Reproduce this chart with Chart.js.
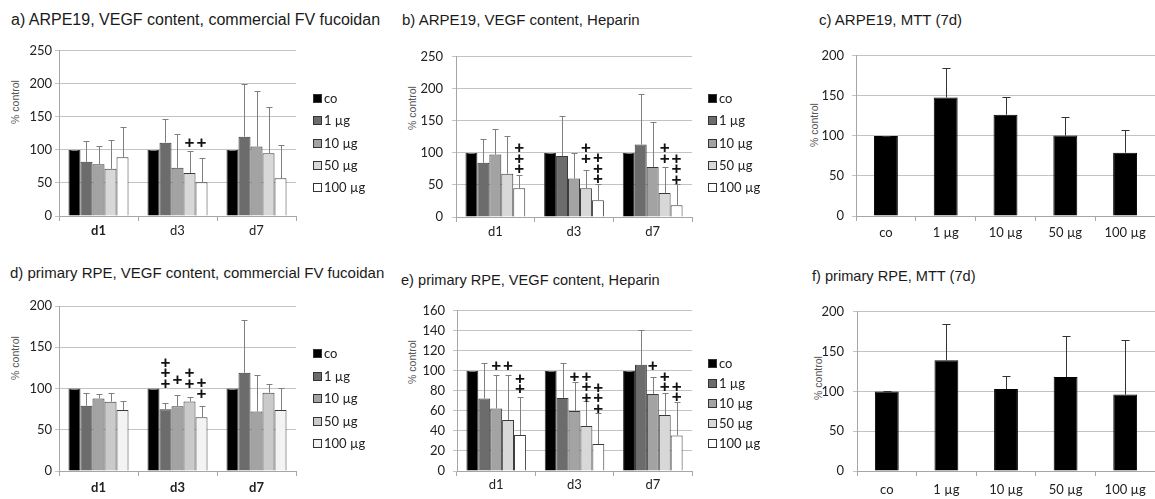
<!DOCTYPE html>
<html><head><meta charset="utf-8">
<script src="https://cdn.jsdelivr.net/npm/chart.js@4/dist/chart.umd.min.js"></script>
<style>
body{margin:0;background:#fff;width:1155px;height:499px;position:relative;overflow:hidden}
canvas{position:absolute}
.t{position:absolute;font-family:"Liberation Sans",Arial,sans-serif;font-size:15px;line-height:16px;color:#1a1a1a;white-space:nowrap}
.yl{position:absolute;font-family:"Liberation Sans",Arial,sans-serif;font-size:10.5px;line-height:12px;color:#555;white-space:nowrap;transform:translate(-50%,-50%) rotate(-90deg)}
</style></head><body>
<div class="t" style="left:11px;top:12px;font-size:16px">a) ARPE19, VEGF content, commercial FV fucoidan</div>
<div class="t" style="left:402px;top:12px">b) ARPE19, VEGF content, Heparin</div>
<div class="t" style="left:819px;top:12px">c) ARPE19, MTT (7d)</div>
<div class="t" style="left:10px;top:265px">d) primary RPE, VEGF content, commercial FV fucoidan</div>
<div class="t" style="left:401px;top:272px;font-size:14.6px">e) primary RPE, VEGF content, Heparin</div>
<div class="t" style="left:812px;top:268px;font-size:14.6px">f) primary RPE, MTT (7d)</div>
<div class="yl" style="left:15px;top:102px">% control</div>
<div class="yl" style="left:412px;top:108px">% control</div>
<div class="yl" style="left:814px;top:125px">% control</div>
<div class="yl" style="left:15px;top:358px">% control</div>
<div class="yl" style="left:412px;top:362px">% control</div>
<div class="yl" style="left:818px;top:378px">% control</div>
<canvas id="ca"></canvas><canvas id="cb"></canvas><canvas id="cc"></canvas>
<canvas id="cd"></canvas><canvas id="ce"></canvas><canvas id="cf"></canvas>
<script>
// ---------- data ----------
const days = ['d1', 'd3', 'd7'];
const doses = ['co', '1 µg', '10 µg', '50 µg', '100 µg'];
const mttLabels = ['co', '1 µg', '10 µg', '50 µg', '100 µg'];

// rows = dose (co,1,10,50,100), columns = day (d1,d3,d7)
const aMeans = [[100,100,100],[82,111,120],[78.5,73,105],[71.5,65,95],[89,51,57]];
const aSD    = [[0,0,0],[32,36,80],[27,51,84],[44,33,70],[46,37,51]];
const aPlus  = [[1,3,1,111],[1,4,1,111]];            // [day, dose, count, value of top +]

const bMeans = [[100,100,100],[84.5,95,113],[97.5,60,78],[67.5,45,37.5],[45,26,18.5]];
const bSD    = [[0,0,0],[37.5,62,79],[39.5,40,70],[59.5,28,40.5],[21,25,33.5]];
const bPlus  = [[0,4,3,108],[1,3,2,108],[1,4,3,93],[2,3,2,108],[2,4,3,92]];

const cMeans = [100,148,126.5,100.4,79];
const cSD    = [0,37,21.5,22.6,28];

const dMeans = [[100,100,100],[79,75,119],[88,78.6,72],[84,84.3,95],[74,65.3,74]];
const dSD    = [[0,0,0],[15,7,64],[5,13.7,44],[11,5.7,10],[11,13.7,27]];
const dPlus  = [[1,1,3,132],[1,2,1,111],[1,3,2,119.4],[1,4,2,107]];

const eMeans = [[100,100,100],[72.5,73,106],[62.5,60,77],[51,45,56],[36,27,35.5]];
const eSD    = [[0,0,0],[35.5,35,34.5],[33,29,16.5],[44.5,25,22],[37.5,31,33]];
const ePlus  = [[0,2,1,106],[0,3,1,106],[0,4,2,93],[1,2,1,95],[1,3,3,95],[1,4,3,84],[2,2,1,106],[2,3,2,95],[2,4,2,85]];

const fMeans = [100,139,103,118,96];
const fSD    = [0,45.7,16,52,69];

const yTicksA = {max:250, step:50};
const yTicksE = {max:160, step:20};
const yTicks200 = {max:200, step:50};

// ---------- styles ----------
const doseFill = ['#000000','#6c6c6c','#a3a3a3','#d8d8d8','#ffffff'];
const doseFillD = ['#000000','#6c6c6c','#a3a3a3','#cacaca','#f3f3f3'];
const tickFont = 'Lato';

// ---------- plugins ----------
const errBars = {
  id:'errBars',
  afterDatasetsDraw(chart, args, opts){
    const ctx = chart.ctx, y = chart.scales.y;
    ctx.save();
    ctx.strokeStyle = opts.color; ctx.lineWidth = 1;
    chart.data.datasets.forEach((ds, di) => {
      const meta = chart.getDatasetMeta(di);
      meta.data.forEach((el, i) => {
        const sd = ds.sd[i];
        const x = Math.round(el.x) + 0.5;
        const yt = Math.round(y.getPixelForValue(ds.data[i] + sd)) + 0.5;
        const yb = el.y;
        ctx.beginPath();
        if (sd > 0) { ctx.moveTo(x, yb); ctx.lineTo(x, yt); }
        ctx.moveTo(x - opts.cap/2, yt); ctx.lineTo(x + opts.cap/2, yt);
        ctx.stroke();
      });
    });
    ctx.restore();
  }
};
const plusMarks = {
  id:'plusMarks',
  afterDatasetsDraw(chart, args, opts){
    if (!opts.items) return;
    const ctx = chart.ctx, y = chart.scales.y;
    ctx.save();
    ctx.fillStyle = '#111';
    ctx.font = 'bold 17px "Liberation Sans"';
    ctx.textAlign = 'center'; ctx.textBaseline = 'middle';
    opts.items.forEach(([day, dose, n, v]) => {
      const el = chart.getDatasetMeta(dose).data[day];
      const y0 = y.getPixelForValue(v);
      for (let k = 0; k < n; k++) ctx.fillText('+', el.x, y0 + k * 10.5 + 1);
    });
    ctx.restore();
  }
};
const sideLegend = {
  id:'sideLegend',
  afterDraw(chart, args, opts){
    if (!opts.show) return;
    const ctx = chart.ctx;
    ctx.save();
    ctx.font = '13px ' + tickFont;
    ctx.textBaseline = 'middle'; ctx.textAlign = 'left';
    chart.data.datasets.forEach((ds, i) => {
      const yy = opts.y0 + i * opts.dy;
      ctx.fillStyle = ds.backgroundColor;
      ctx.fillRect(opts.x + 0.5, Math.round(yy - 4) + 0.5, 8, 8);
      ctx.strokeStyle = '#333'; ctx.lineWidth = 1;
      ctx.strokeRect(opts.x + 0.5, Math.round(yy - 4) + 0.5, 8, 8);
      ctx.fillStyle = '#222';
      ctx.fillText(ds.label, opts.x + 11, yy + 1);
    });
    ctx.restore();
  }
};

// ---------- builder ----------
function build(id, g, labels, datasets, yt, o){
  const cv = document.getElementById(id);
  cv.width = g.cw; cv.height = g.ch;
  cv.style.left = g.cx + 'px'; cv.style.top = g.cy + 'px';
  const bold = o.bold || [];
  new Chart(cv.getContext('2d'), {
    type:'bar',
    data:{labels, datasets},
    plugins:[errBars, plusMarks, sideLegend],
    options:{
      responsive:false, animation:false, devicePixelRatio:1,
      layout:{padding:{left:0, top:g.T - g.cy, right:g.cx + g.cw - g.R, bottom:0}},
      datasets:{bar:{categoryPercentage:o.cat, barPercentage:1}},
      plugins:{
        legend:{display:false}, tooltip:{enabled:false},
        errBars:{color:o.errColor, cap:o.cap},
        plusMarks:{items:o.plus},
        sideLegend:{show:o.legend, x:o.legX - g.cx, y0:o.legY - g.cy, dy:o.legDy}
      },
      scales:{
        x:{
          grid:{display:true, drawOnChartArea:false, drawTicks:true, tickLength:5, color:'#a6a6a6', offset:true},
          border:{display:true, color:'#a6a6a6'},
          ticks:{color:'#222', padding:o.xPad, maxRotation:0,
            font:(c) => ({family:tickFont, size:13, weight: bold.includes(c.index) ? 'bold' : 'normal'})},
          afterFit:(s) => { s.height = g.cy + g.ch - g.B; }
        },
        y:{
          min:0, max:yt.max,
          grid:{color:'#c3c3c3', tickLength:4},
          border:{display:true, color:'#a6a6a6'},
          ticks:{stepSize:yt.step, color:'#222', padding:o.yPad, font:{family:tickFont, size:13}},
          afterFit:(s) => { s.width = g.L - g.cx; }
        }
      }
    }
  });
}

function vegfSets(means, sds, fills){
  return doses.map((d, i) => ({label:d, data:means[i], sd:sds[i], backgroundColor:fills[i],
    borderColor:'#3a3a3a', borderWidth:1}));
}
function mttSet(means, sds){
  return [{label:'MTT', data:means, sd:sds, backgroundColor:'#000', borderColor:'#000', borderWidth:1}];
}

build('ca', {cx:0, cy:40, cw:390, ch:210, L:59, T:49, R:296, B:216}, days, vegfSets(aMeans, aSD, doseFill), yTicksA,
  {cat:0.76, errColor:'#7f7f7f', cap:6, plus:aPlus, legend:true, legX:313, legY:98, legDy:22.3, xPad:2, yPad:3, bold:[0]});
build('cb', {cx:390, cy:40, cw:390, ch:210, L:456, T:50, R:692, B:217}, days, vegfSets(bMeans, bSD, doseFill), yTicksA,
  {cat:0.76, errColor:'#7f7f7f', cap:6, plus:bPlus, legend:true, legX:708, legY:98, legDy:22.3, xPad:2, yPad:9});
build('cc', {cx:780, cy:40, cw:375, ch:210, L:856, T:50, R:1155, B:216}, mttLabels, mttSet(cMeans, cSD), yTicks200,
  {cat:0.4, errColor:'#333', cap:8, plus:null, legend:false, xPad:4, yPad:8});
build('cd', {cx:0, cy:295, cw:390, ch:204, L:59, T:306, R:296, B:471}, days, vegfSets(dMeans, dSD, doseFillD), yTicks200,
  {cat:0.76, errColor:'#7f7f7f', cap:6, plus:dPlus, legend:true, legX:313, legY:353, legDy:22.5, xPad:4, yPad:3, bold:[0,1,2]});
build('ce', {cx:390, cy:295, cw:390, ch:204, L:457, T:306, R:692, B:471}, days, vegfSets(eMeans, eSD, doseFill), yTicksE,
  {cat:0.76, errColor:'#7f7f7f', cap:6, plus:ePlus, legend:true, legX:708, legY:363, legDy:20, xPad:1, yPad:8});
build('cf', {cx:780, cy:295, cw:375, ch:204, L:857, T:306, R:1155, B:471}, mttLabels, mttSet(fMeans, fSD), yTicks200,
  {cat:0.4, errColor:'#333', cap:8, plus:null, legend:false, xPad:6, yPad:9});
</script>
</body></html>
